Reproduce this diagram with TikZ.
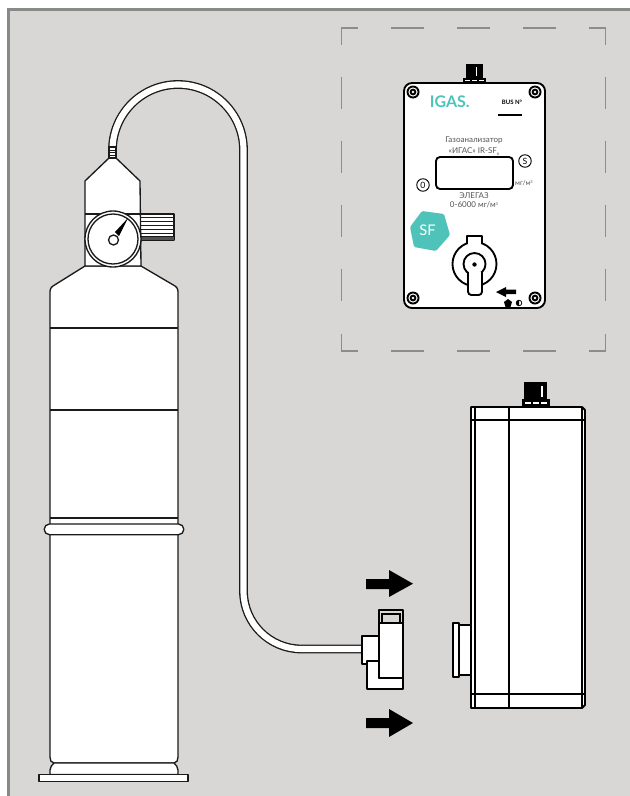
\documentclass[tikz,border=0pt]{standalone}
\usepackage{fontspec}
\setmainfont{Lato}
\definecolor{bgc}{HTML}{D8D7D5}
\definecolor{framec}{HTML}{878B88}
\definecolor{dashc}{HTML}{8C8C8C}
\definecolor{teal}{HTML}{4FC3BA}
\definecolor{ink}{HTML}{1A1A1A}
\definecolor{graytext}{HTML}{555555}
\tikzset{
  part/.style={draw=ink,line width=1pt,fill=white,line join=round},
  thin part/.style={draw=ink,line width=.7pt},
  heavy/.style={draw=black,line width=1.4pt,fill=white,line join=round},
  cut/.style={draw=dashc,line width=1.1pt},
  lab/.style={inner sep=0pt,text=graytext,font=\fontsize{6pt}{6.5pt}\selectfont},
  solid arrow/.style={fill=black,draw=none},
}
\newcommand{\screwat}[1]{%
  \fill[black] (#1) circle (6.5);
  \fill[white] (#1) circle (4.6);
  \fill[black] (#1) circle (3.4);
  \fill[white] (#1) circle (1.4);
}
\begin{document}
\begin{tikzpicture}[x=.75pt,y=-.75pt]
\useasboundingbox (0,0) rectangle (630,796);
\fill[white] (0,0) rectangle (630,796);
\fill[framec] (7,8) rectangle (630,796);
\fill[bgc] (10,11) rectangle (630,796);

% dashed cut-out frame
\foreach \a/\b in {341/358,391/424,457/490,523/556,589/606}{
  \draw[cut] (\a,28) -- (\b,28);
  \draw[cut] (\a,351) -- (\b,351);
}
\foreach \a/\b in {28/45,77/109,141/173,205/237,269/301,334/351}{
  \draw[cut] (341.5,\a) -- (341.5,\b);
  \draw[cut] (605.5,\a) -- (605.5,\b);
}

% tube
\coordinate (tubeA) at (112.5,158);
\coordinate (tubeB) at (362,649);
\newcommand{\tubepath}{(tubeA) -- (112.5,150) arc[start angle=180,end angle=360,radius=65.5] -- (243.5,591) arc[start angle=180,end angle=90,radius=58] -- (tubeB)}
\draw[ink,line width=6.6pt] \tubepath;
\draw[white,line width=4.6pt] \tubepath;

% cylinder
\draw[part] (85,266) -- (53,286) .. controls (50,288) and (50,290) .. (50,294)
  -- (50,757) .. controls (50,760) and (51,763) .. (54,763)
  -- (174,763) .. controls (177,763) and (178,760) .. (178,757)
  -- (178,294) .. controls (178,290) and (178,288) .. (175,286) -- (141,266) -- cycle;
\draw[part] (50,774.5) -- (50,770) .. controls (50,767) and (52,765) .. (54,763) -- (174,763)
  .. controls (176,765) and (178,767) .. (178,770) -- (178,774.5) -- cycle;
\draw[part] (39,774.5) rectangle (188,781.5);
\draw[part] (50,328) -- (178,328);
\draw[part] (50,410) -- (178,410);
\draw[part] (50,518) -- (178,518);
\draw[part] (49.5,524) -- (178.5,524) arc[start angle=-90,end angle=90,radius=5.35] -- (49.5,534.7) arc[start angle=90,end angle=270,radius=5.35] -- cycle;

% hand wheel
\draw[part] (140,214) rectangle (174,240);
\foreach \y in {217.5,221,225,229,233,236.5}{\draw[thin part] (140,\y) -- (174,\y);}
\fill[ink!75] (140,237) rectangle (174,240);

% valve block
\draw[part] (85,266) -- (85,181) -- (109,158) -- (116,158) -- (140,181) -- (141,266) -- cycle;
\draw[part] (85,214) -- (140,214);
\draw[part,fill=white] (109,147) rectangle (116,158);
\foreach \y in {150,152.5,155}{\draw[thin part] (109,\y) -- (116,\y);}

% gauge
\draw[part] (113,239) circle (28);
\draw[part] (113,239) circle (25);
\fill[black] (128,218) -- (115,232) -- (119,236) -- cycle;
\draw[part] (113.5,240) circle (5);

% panel
\draw[heavy] (404,91) arc[start angle=180,end angle=270,radius=8] -- (537,83) arc[start angle=270,end angle=360,radius=8]
  -- (545,300) arc[start angle=0,end angle=90,radius=8] -- (412,308) arc[start angle=90,end angle=180,radius=8] -- cycle;
\fill[black] (466,64) rectangle (483,78);
\fill[black] (463,78) rectangle (486,83);
\fill[white] (475.5,67) rectangle (476.8,76);
\fill[white] (465,80) rectangle (470,81);
\fill[white] (472,80) rectangle (477,81);
\fill[white] (479,80) rectangle (484,81);
\screwat{413,92}
\screwat{535,92}
\screwat{413,298}
\screwat{535,298}
\node[inner sep=0pt,anchor=west,text=teal,font=\fontsize{12pt}{13pt}\bfseries\selectfont] (logo) at (429.5,102) {IGAS.};
\node[inner sep=0pt,text=black,font=\fontsize{4.5pt}{5pt}\bfseries\selectfont] (bus) at (512,102.5) {BUS N°};
\draw[black,line width=1pt] (498,115) -- (522,115);
\node[lab] (t1) at (474,140) {Газоанализатор};
\node[lab] (t2) at (474,151.5) {«ИГАС» IR-SF\raisebox{-.4ex}{\fontsize{3pt}{3pt}\selectfont 6}};
\draw[heavy,rounded corners=3] (436,157) rectangle (513,189);
\node[lab,font=\fontsize{5.2pt}{5.5pt}\selectfont] (t3) at (524,183) {мг/м\raisebox{.6ex}{\fontsize{3pt}{3pt}\selectfont 3}};
\node[lab] (t4) at (474,196) {ЭЛЕГАЗ};
\node[lab] (t5) at (474,205) {0-6000 мг/м\raisebox{.6ex}{\fontsize{3pt}{3pt}\selectfont 3}};
\node[circle,draw=black,line width=.7pt,minimum size=12.5*.75pt,inner sep=0pt,font=\fontsize{6.5pt}{7pt}\selectfont,text=black] (sbtn) at (525,161) {S};
\node[circle,draw=black,line width=.7pt,minimum size=12.5*.75pt,inner sep=0pt,font=\fontsize{6.5pt}{7pt}\selectfont,text=black] (zbtn) at (423,185) {0};
\fill[teal,rounded corners=1] (422,211) -- (444,214) -- (450,235) -- (436,251) -- (414,247) -- (410,227) -- cycle;
\node[inner sep=0pt,text=white,font=\fontsize{11pt}{12pt}\selectfont] (sf) at (427.5,230) {SF};

% selector knob
\draw[heavy] (467,248) -- (467,236) -- (482,236) -- (482,248) -- cycle;
\draw[heavy] (474.5,264) circle (22);
\draw[heavy] (467.5,239) -- (467.5,236) -- (481.5,236) -- (481.5,239);
\fill[white] (468.2,237) rectangle (480.8,244);
\draw[heavy] (474.5,264) circle (11);
\fill[black] (474.5,264.5) circle (2.2);
\draw[heavy,rounded corners=2.5] (468,273) -- (468,295) -- (482,295) -- (482,273);
\fill[white] (468.8,272) rectangle (481.2,276);
% small arrow and marks
\fill[solid arrow] (496,292) -- (506,287) -- (506,289.5) -- (516,289.5) -- (516,294) -- (506,294) -- (506,297) -- cycle;
\fill[black] (508,299) -- (512,302) -- (510.5,307) -- (505.5,307) -- (504,302) -- cycle;
\draw[black,line width=.6pt,fill=white] (519,303) circle (2.8);
\fill[black] (519,305.8) arc[start angle=90,end angle=270,radius=2.8] -- cycle;

% big arrows
\fill[solid arrow] (366,579) -- (389,579) -- (389,570) -- (413,583.7) -- (389,597) -- (389,589) -- (366,589) -- cycle;
\fill[solid arrow] (366,718) -- (389,718) -- (389,709) -- (413,723) -- (389,737) -- (389,728) -- (366,728) -- cycle;

% connector (left half)
\draw[heavy] (367,661) -- (367,689) -- (403,689) -- (403,678) -- (379,678) -- (379,661) -- cycle;
\draw[heavy] (362,636) -- (362,664) -- (367,664) -- (367,661) -- (379,661) -- (379,636) -- cycle;
\draw[heavy] (379,623) rectangle (403,678);
\draw[heavy,fill=none] (379,610) rectangle (403,623);
\draw[draw=black,line width=1.2pt] (382,623) -- (382,614) -- (400,614) -- (400,623);

% gas analyser, side
\draw[heavy] (453,623) rectangle (459,677);
\draw[heavy] (459,625) rectangle (471,675);
\draw[heavy] (471,407) -- (582,407) -- (585,410) -- (585,705) -- (582,708) -- (471,708) -- cycle;
\draw[heavy] (475,407) -- (475,708);
\draw[heavy] (582,407) -- (582,708);
\draw[heavy] (471,420) -- (585,420);
\draw[heavy] (471,694) -- (585,694);
\draw[heavy] (509,407) -- (509,708);
\fill[black] (524,382) rectangle (547,399);
\fill[black] (522,399) rectangle (550,407);
\fill[white] (541,386) rectangle (542.5,397);
\fill[white] (525,402) rectangle (531,404);
\fill[white] (533,402) rectangle (539,404);
\fill[white] (541,402) rectangle (547,404);
\end{tikzpicture}
\end{document}
